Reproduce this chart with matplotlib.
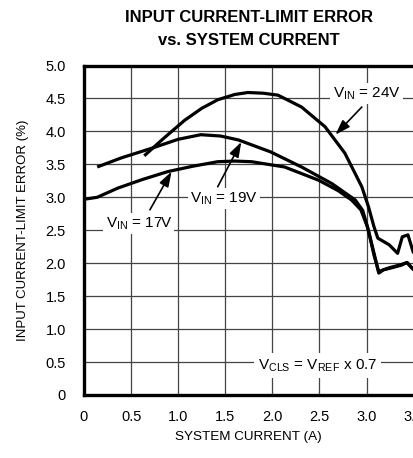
import numpy as np
import matplotlib
matplotlib.use("Agg")
import matplotlib.pyplot as plt
from matplotlib import font_manager

names = set(f.name for f in font_manager.fontManager.ttflist)
narrow = 'Liberation Sans Narrow' if 'Liberation Sans Narrow' in names else 'Liberation Sans'
plt.rcParams['font.family'] = [narrow, 'DejaVu Sans']
plt.rcParams['mathtext.fontset'] = 'custom'
plt.rcParams['mathtext.rm'] = narrow

# system current (A) vs input current-limit error (%)
i17 = [0.0, 0.14, 0.36, 0.62, 0.89, 1.15, 1.42, 1.60, 1.78, 2.13, 2.49, 2.70, 2.84, 2.94, 3.01, 3.08, 3.13, 3.18, 3.24, 3.37, 3.43, 3.5]
e17 = [2.97, 3.00, 3.14, 3.27, 3.39, 3.47, 3.54, 3.55, 3.54, 3.46, 3.26, 3.10, 2.96, 2.81, 2.55, 2.15, 1.85, 1.90, 1.92, 1.97, 2.01, 1.90]

i19 = [0.14, 0.40, 0.71, 1.00, 1.24, 1.45, 1.64, 1.98, 2.31, 2.63, 2.88, 2.96, 3.02, 3.08, 3.13, 3.18, 3.24, 3.37, 3.43, 3.5]
e19 = [3.46, 3.60, 3.74, 3.88, 3.95, 3.93, 3.87, 3.69, 3.46, 3.21, 2.96, 2.80, 2.50, 2.12, 1.87, 1.90, 1.93, 1.98, 2.01, 1.90]

i24 = [0.64, 0.85, 1.07, 1.25, 1.42, 1.60, 1.74, 1.90, 2.06, 2.31, 2.56, 2.77, 2.95, 3.02, 3.08, 3.12, 3.18, 3.24, 3.33, 3.38, 3.44, 3.5]
e24 = [3.63, 3.90, 4.17, 4.35, 4.48, 4.56, 4.59, 4.58, 4.55, 4.37, 4.07, 3.67, 3.16, 2.86, 2.55, 2.38, 2.33, 2.28, 2.15, 2.40, 2.43, 2.15]

xticks = [0, 0.5, 1.0, 1.5, 2.0, 2.5, 3.0, 3.5]
xlabels = ['0', '0.5', '1.0', '1.5', '2.0', '2.5', '3.0', '3.5']
yticks = [0, 0.5, 1.0, 1.5, 2.0, 2.5, 3.0, 3.5, 4.0, 4.5, 5.0]
ylabels = ['0', '0.5', '1.0', '1.5', '2.0', '2.5', '3.0', '3.5', '4.0', '4.5', '5.0']

fig = plt.figure(figsize=(4.13, 4.58), dpi=100)
ax = fig.add_axes([84 / 413, 63 / 458, 329.6 / 413, 329.5 / 458])

for x, y in [(i17, e17), (i19, e19), (i24, e24)]:
    ax.plot(x, y, color='black', lw=2.3, solid_capstyle='butt', zorder=4)

ax.set_xlim(0, 3.5)
ax.set_ylim(0, 5.0)
ax.set_xticks(xticks)
ax.set_xticklabels(xlabels)
ax.set_yticks(yticks)
ax.set_yticklabels(ylabels)
ax.tick_params(length=0, labelsize=10.5, pad=13)
ax.tick_params(axis='x', pad=11)
ax.grid(True, color='#444444', lw=0.9, zorder=1)
ax.set_axisbelow(True)
for s in ['top', 'left', 'bottom']:
    ax.spines[s].set_linewidth(2.4)
ax.spines['right'].set_linewidth(1.0)

ax.set_xlabel('SYSTEM CURRENT (A)', fontsize=9.7, labelpad=5)
ax.set_ylabel('INPUT CURRENT-LIMIT ERROR (%)', fontsize=9.5, labelpad=12)

box = dict(facecolor='white', edgecolor='none', pad=1.5)
arrow = dict(arrowstyle='-|>,head_length=0.9,head_width=0.3', color='black', lw=1.2,
             shrinkA=0, shrinkB=0)

ax.text(3.0, 4.57, r'V$_{\mathrm{IN}}$ = 24V', fontsize=11, ha='center', va='center', bbox=box, zorder=5)
ax.annotate('', xy=(2.67, 3.95), xytext=(2.95, 4.37), arrowprops=arrow, zorder=5)

ax.text(1.49, 2.98, r'V$_{\mathrm{IN}}$ = 19V', fontsize=11, ha='center', va='center', bbox=box, zorder=5)
ax.annotate('', xy=(1.67, 3.84), xytext=(1.42, 3.16), arrowprops=arrow, zorder=5)

ax.text(0.58, 2.6, r'V$_{\mathrm{IN}}$ = 17V', fontsize=11, ha='center', va='center', bbox=box, zorder=5)
ax.annotate('', xy=(0.93, 3.39), xytext=(0.70, 2.81), arrowprops=arrow, zorder=5)

ax.text(2.48, 0.45, r'V$_{\mathrm{CLS}}$ = V$_{\mathrm{REF}}$ x 0.7', fontsize=11, ha='center', va='center',
        bbox=dict(facecolor='white', edgecolor='none', pad=3), zorder=5)

fig.text(0.602, 0.962, 'INPUT CURRENT-LIMIT ERROR', fontsize=12, fontweight='bold', ha='center', va='center')
fig.text(0.602, 0.912, 'vs. SYSTEM CURRENT', fontsize=12, fontweight='bold', ha='center', va='center')

fig.savefig('out.png', dpi=100)
